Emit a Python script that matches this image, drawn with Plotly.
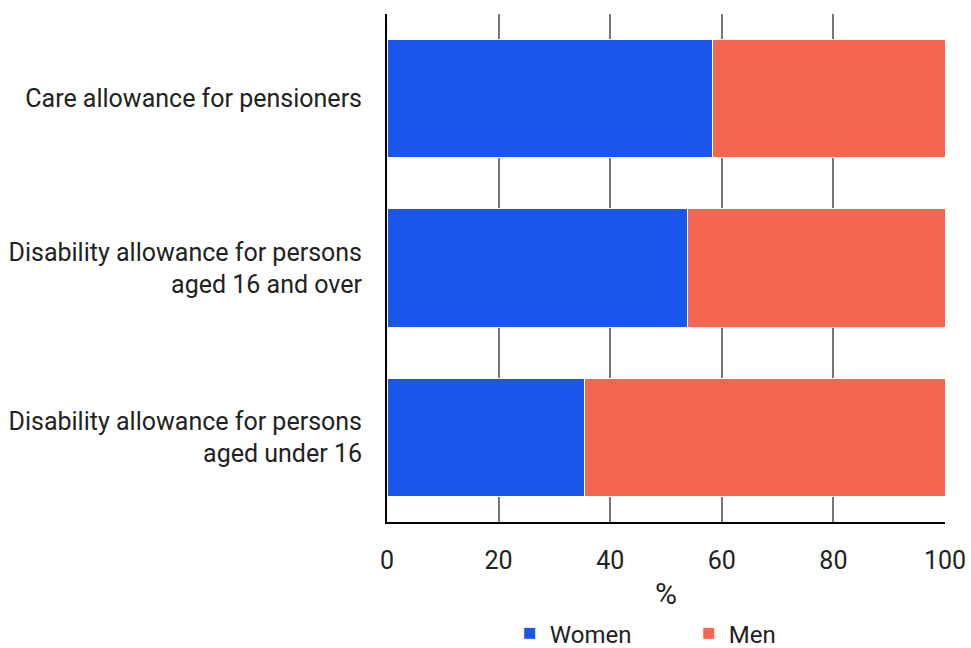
import plotly.graph_objects as go

categories = ["Care allowance for pensioners",
              "Disability allowance for persons<br>aged 16 and over",
              "Disability allowance for persons<br>aged under 16"]
women = [58.3, 53.9, 35.4]
men = [41.7, 46.1, 64.6]
x_ticks = [0, 20, 40, 60, 80, 100]

font = "Roboto"
fig = go.Figure()
fig.add_trace(go.Bar(y=categories, x=women, name="Women", orientation="h",
                     marker=dict(color="#1b57ec", line=dict(color="white", width=1)), width=0.7))
fig.add_trace(go.Bar(y=categories, x=men, name="Men", orientation="h",
                     marker=dict(color="#f3664f", line=dict(color="white", width=1)), width=0.7))

fig.update_layout(
    barmode="stack",
    width=971, height=648,
    margin=dict(l=387, r=26, t=14, b=126),
    plot_bgcolor="white", paper_bgcolor="white",
    font=dict(family=font, size=25, color="#222222"),
    showlegend=True,
    legend=dict(orientation="h", x=0.22, xanchor="left", yref="container", y=0.022, yanchor="middle",
                font=dict(size=24), entrywidth=134, traceorder="normal"),
    xaxis=dict(range=[0, 100], tickvals=x_ticks, showgrid=True, gridcolor="#777777", gridwidth=1.5,
               showline=True, linecolor="black", linewidth=2, zeroline=False, automargin=False,
               title=dict(text="%", standoff=20), ticks="", ticklabelstandoff=15),
    yaxis=dict(autorange="reversed", showline=True, linecolor="black", linewidth=2, automargin=False,
               showgrid=False, ticks="", ticklabelstandoff=18),
)
fig.write_html("out.html", config={"displayModeBar": False},
               post_script="document.body.style.margin='0';document.body.style.overflow='hidden';")
